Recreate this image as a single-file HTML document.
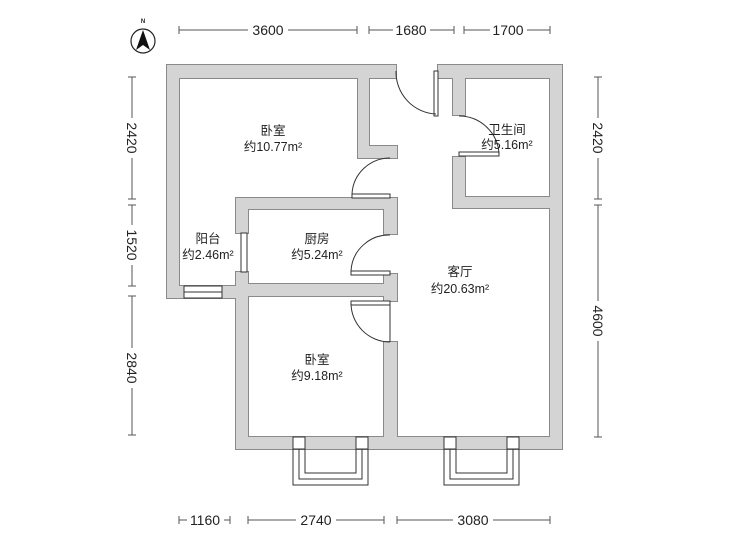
<!DOCTYPE html>
<html><head><meta charset="utf-8"><style>
html,body{margin:0;padding:0;background:#fff;}
svg{display:block;}
text{font-family:"Liberation Sans","Noto Sans CJK SC",sans-serif;fill:#222;}
</style></head><body>
<svg width="729" height="547" viewBox="0 0 729 547" xmlns="http://www.w3.org/2000/svg">
<defs>
<g id="walls">
<rect x="167" y="65" width="229" height="13"/>
<rect x="438" y="65" width="124" height="13"/>
<rect x="167" y="65" width="12" height="233"/>
<rect x="550" y="65" width="12" height="384"/>
<rect x="358" y="65" width="11" height="93"/>
<rect x="358" y="146" width="39" height="12"/>
<rect x="453" y="65" width="12" height="50"/>
<rect x="453" y="157" width="12" height="51"/>
<rect x="453" y="197" width="109" height="11"/>
<rect x="236" y="198" width="161" height="11"/>
<rect x="236" y="198" width="12" height="35"/>
<rect x="236" y="272" width="12" height="177"/>
<rect x="236" y="284" width="161" height="12"/>
<rect x="384" y="198" width="13" height="36"/>
<rect x="384" y="274" width="13" height="27"/>
<rect x="384" y="342" width="13" height="107"/>
<rect x="167" y="286" width="81" height="12"/>
<rect x="236" y="437" width="326" height="12"/>
</g>
</defs>
<use href="#walls" fill="#d4d4d4" stroke="#8a8a8a" stroke-width="2"/>
<use href="#walls" fill="#d4d4d4" stroke="none"/>
<!-- windows -->
<g fill="#fff" stroke="#333" stroke-width="1">
<rect x="184" y="286" width="38" height="12"/>
<line x1="184" y1="292" x2="222" y2="292"/>
<rect x="241" y="233" width="6" height="39"/>
<rect x="293" y="437" width="12" height="12"/>
<rect x="356" y="437" width="12" height="12"/>
<rect x="444" y="437" width="12" height="12"/>
<rect x="507" y="437" width="12" height="12"/>
</g>
<g fill="none" stroke="#333" stroke-width="1">
<path d="M293 449 V485 H368 V449"/>
<path d="M299 449 V479 H362 V449"/>
<path d="M305 449 V473 H356 V449"/>
<path d="M444 449 V485 H519 V449"/>
<path d="M450 449 V479 H513 V449"/>
<path d="M456 449 V473 H507 V449"/>
</g>
<!-- doors -->
<g fill="none" stroke="#333" stroke-width="1">
<rect x="434" y="71" width="4" height="45" fill="#fff"/>
<path d="M396 71 A42 42 0 0 0 436 114"/>
<rect x="459" y="152" width="40" height="4" fill="#fff"/>
<path d="M459 116 A40 40 0 0 1 499 154"/>
<rect x="352" y="194" width="38" height="4" fill="#fff"/>
<path d="M352 194 A38 38 0 0 1 390 158"/>
<rect x="351" y="271" width="39" height="4" fill="#fff"/>
<path d="M351 271 A38 38 0 0 1 390 235"/>
<rect x="351" y="301" width="39" height="4" fill="#fff"/>
<path d="M351 303 A39 39 0 0 0 390 342"/>
<line x1="390" y1="301" x2="390" y2="342"/>
</g>
<!-- labels -->
<g font-size="12.5" text-anchor="middle">
<text x="273" y="135">卧室</text><text x="273" y="151">约10.77m²</text>
<text x="507" y="134">卫生间</text><text x="507" y="149">约5.16m²</text>
<text x="208" y="243">阳台</text><text x="208" y="259">约2.46m²</text>
<text x="317" y="243">厨房</text><text x="317" y="259">约5.24m²</text>
<text x="460" y="276">客厅</text><text x="460" y="293">约20.63m²</text>
<text x="317" y="364">卧室</text><text x="317" y="380">约9.18m²</text>
</g>
<!-- dimensions -->
<g stroke="#555" stroke-width="1" fill="none">
<line x1="179" y1="30" x2="357" y2="30"/><line x1="179" y1="26" x2="179" y2="34"/><line x1="357" y1="26" x2="357" y2="34"/>
<line x1="369" y1="30" x2="454" y2="30"/><line x1="369" y1="26" x2="369" y2="34"/><line x1="454" y1="26" x2="454" y2="34"/>
<line x1="464" y1="30" x2="550" y2="30"/><line x1="464" y1="26" x2="464" y2="34"/><line x1="550" y1="26" x2="550" y2="34"/>
<line x1="179" y1="520" x2="230" y2="520"/><line x1="179" y1="516" x2="179" y2="524"/><line x1="230" y1="516" x2="230" y2="524"/>
<line x1="248" y1="520" x2="384" y2="520"/><line x1="248" y1="516" x2="248" y2="524"/><line x1="384" y1="516" x2="384" y2="524"/>
<line x1="397" y1="520" x2="550" y2="520"/><line x1="397" y1="516" x2="397" y2="524"/><line x1="550" y1="516" x2="550" y2="524"/>
<line x1="132" y1="77" x2="132" y2="199"/><line x1="128" y1="77" x2="136" y2="77"/><line x1="128" y1="199" x2="136" y2="199"/>
<line x1="132" y1="205" x2="132" y2="286"/><line x1="128" y1="205" x2="136" y2="205"/><line x1="128" y1="286" x2="136" y2="286"/>
<line x1="132" y1="296" x2="132" y2="435"/><line x1="128" y1="296" x2="136" y2="296"/><line x1="128" y1="435" x2="136" y2="435"/>
<line x1="598" y1="77" x2="598" y2="199"/><line x1="594" y1="77" x2="602" y2="77"/><line x1="594" y1="199" x2="602" y2="199"/>
<line x1="598" y1="205" x2="598" y2="437"/><line x1="594" y1="205" x2="602" y2="205"/><line x1="594" y1="437" x2="602" y2="437"/>
</g>
<g font-size="14" text-anchor="middle">
<rect x="248" y="22" width="40" height="16" fill="#fff"/><text x="268" y="35">3600</text>
<rect x="393" y="22" width="37" height="16" fill="#fff"/><text x="411" y="35">1680</text>
<rect x="490" y="22" width="37" height="16" fill="#fff"/><text x="508" y="35">1700</text>
<rect x="187" y="512" width="37" height="16" fill="#fff"/><text x="205" y="525">1160</text>
<rect x="296" y="512" width="40" height="16" fill="#fff"/><text x="316" y="525">2740</text>
<rect x="453" y="512" width="40" height="16" fill="#fff"/><text x="473" y="525">3080</text>
<g transform="translate(132,138) rotate(90)"><rect x="-20" y="-8" width="40" height="16" fill="#fff"/><text x="0" y="5">2420</text></g>
<g transform="translate(132,245) rotate(90)"><rect x="-20" y="-8" width="40" height="16" fill="#fff"/><text x="0" y="5">1520</text></g>
<g transform="translate(132,368) rotate(90)"><rect x="-20" y="-8" width="40" height="16" fill="#fff"/><text x="0" y="5">2840</text></g>
<g transform="translate(598,138) rotate(90)"><rect x="-20" y="-8" width="40" height="16" fill="#fff"/><text x="0" y="5">2420</text></g>
<g transform="translate(598,321) rotate(90)"><rect x="-20" y="-8" width="40" height="16" fill="#fff"/><text x="0" y="5">4600</text></g>
</g>
<!-- compass -->
<circle cx="143" cy="41" r="12" fill="#fff" stroke="#222" stroke-width="1.2"/>
<path d="M143 30 L150 50 L143 45 L136 50 Z" fill="#111"/>
<text x="143" y="23" font-size="6" text-anchor="middle" font-weight="bold">N</text>
</svg>
</body></html>
